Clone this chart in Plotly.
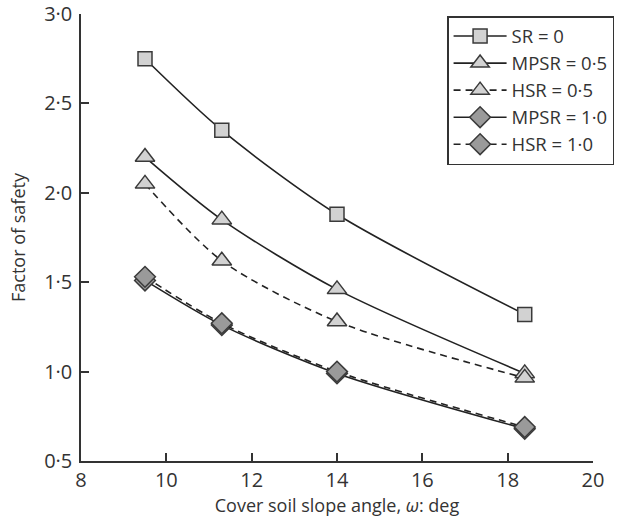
import plotly.graph_objects as go

# Data
slope_angle = [9.5, 11.3, 14.0, 18.4]
sr_0 = [2.75, 2.35, 1.88, 1.32]
mpsr_05 = [2.20, 1.85, 1.46, 0.99]
hsr_05 = [2.05, 1.62, 1.28, 0.965]
mpsr_10 = [1.51, 1.26, 0.99, 0.68]
hsr_10 = [1.53, 1.27, 1.00, 0.69]

x_ticks = [8, 10, 12, 14, 16, 18, 20]
y_ticks = [0.5, 1.0, 1.5, 2.0, 2.5, 3.0]
y_tick_text = ["0·5", "1·0", "1·5", "2·0", "2·5", "3·0"]

FONT = "Open Sans, Noto Sans, sans-serif"
LINE = "#222222"
OUT = "#3a3a3a"
LIGHT = "#d2d2d2"
DARK = "#9a9a9a"

series = [
    ("SR = 0", sr_0, "square", LIGHT, "solid", 14),
    ("MPSR = 0·5", mpsr_05, "triangle-up", LIGHT, "solid", 17),
    ("HSR = 0·5", hsr_05, "triangle-up", LIGHT, "7px,5px", 17),
    ("MPSR = 1·0", mpsr_10, "diamond", DARK, "solid", 16),
    ("HSR = 1·0", hsr_10, "diamond", DARK, "7px,5px", 16),
]

fig = go.Figure()
for name, vals, sym, fill, dash, size in series:
    fig.add_trace(go.Scatter(
        x=slope_angle, y=vals, name=name, mode="lines+markers",
        line=dict(color=LINE, width=1.6, dash=dash, shape="spline", smoothing=0.8),
        marker=dict(symbol=sym, size=size, color=fill, line=dict(color=OUT, width=1.5)),
    ))

fig.update_layout(
    width=634, height=523,
    margin=dict(l=81, r=41, t=14, b=62),
    paper_bgcolor="white", plot_bgcolor="white",
    font=dict(family=FONT, size=19, color="#333333"),
    showlegend=True,
    legend=dict(
        x=0.715, y=0.9955, xanchor="left", yanchor="top",
        bordercolor="#333333", borderwidth=1.5, bgcolor="white",
        font=dict(family=FONT, size=18.5, color="#333333"),
        itemwidth=53, tracegroupgap=0,
    ),
)
fig.update_xaxes(
    range=[8, 20.0001], tickvals=x_ticks, ticks="inside", ticklen=8, tickwidth=1.5,
    tickcolor="#333333", showline=True, linecolor="#333333", linewidth=1.5,
    showgrid=False, zeroline=False, mirror=False, automargin=False,
    tickfont=dict(size=20), ticklabeloverflow="allow",
    title=dict(text="Cover soil slope angle, <i>ω</i>: deg", font=dict(size=18), standoff=1),
)
fig.update_yaxes(
    range=[0.5, 3.0001], tickvals=y_ticks, ticktext=y_tick_text, ticks="inside", ticklen=8,
    tickwidth=1.5, tickcolor="#333333", showline=True, linecolor="#333333", linewidth=1.5,
    showgrid=False, zeroline=False, mirror=False, automargin=False,
    tickfont=dict(size=20), ticklabelstandoff=3, ticklabeloverflow="allow",
    title=dict(text="Factor of safety", font=dict(size=18), standoff=14),
)

fig.write_html(
    "out.html",
    config={"displayModeBar": False},
    post_script="document.body.style.margin='0';",
)
